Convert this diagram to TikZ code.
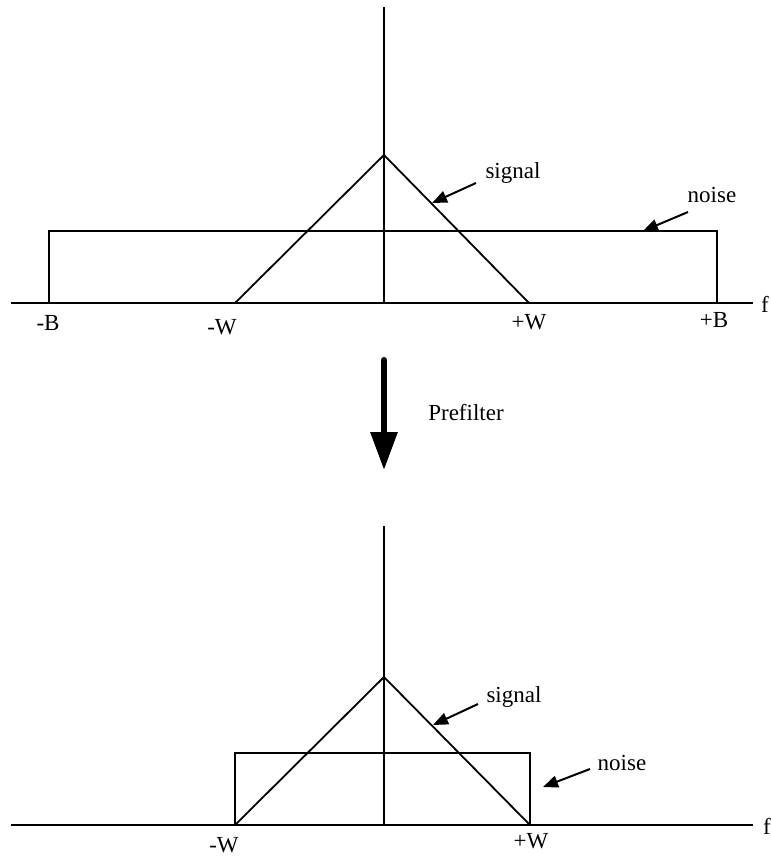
\documentclass[tikz,border=0pt]{standalone}
\usepackage{fontspec}
\setmainfont{Liberation Serif}
\usetikzlibrary{arrows.meta}
\tikzset{
  axisline/.style={line width=1pt},
  midline/.style={line width=0.55pt},
  curve/.style={line width=0.9pt},
  lbl/.style={inner sep=0pt, font=\fontsize{11.5}{13}\selectfont},
  ptr/.style={-{Triangle[length=7.5pt,width=6pt]}, line width=1pt},
  bigarr/.style={-{Triangle[length=19pt,width=13pt]}, line width=3pt, line cap=round}
}

\begin{document}
\begin{tikzpicture}[x=0.5pt,y=-0.5pt]
        \useasboundingbox (0,0) rectangle (771,858);
        % before the prefilter
        \coordinate (axL) at (11,303);
        \coordinate (axR) at (753,303);
        \coordinate (midT) at (384,7);
        \coordinate (midB) at (384,303);
        \coordinate (sigL) at (235,303);
        \coordinate (sigP) at (384,155);
        \coordinate (sigR) at (529,303);
        \coordinate (noiL) at (49,303);
        \coordinate (noiR) at (717,303);
        \draw[axisline] (axL) -- (axR);
        \draw[midline] (midT) -- (midB);
        \draw[curve] (sigL) -- (sigP) -- (sigR);
        \draw[curve] (noiL) -- (49,231) -- (717,231) -- (noiR);
        \node[lbl] (f) at (765,304) {f};
        \node[lbl] (mB) at (48,323) {-B};
        \node[lbl] (mW) at (222,327) {-W};
        \node[lbl] (pW) at (529,322) {+W};
        \node[lbl] (pB) at (714,320) {+B};
        \node[lbl] (signal) at (513,173) {signal};
        \node[lbl] (noise) at (712,195) {noise};
        \coordinate (sigTail) at (476,183);
        \coordinate (sigTip) at (432,203);
        \coordinate (noiTail) at (688,212);
        \coordinate (noiTip) at (643,231);
        \draw[ptr] (sigTail) -- (sigTip);
        \draw[ptr] (noiTail) -- (noiTip);

        % prefilter step
        \coordinate (pfTop) at (384,360);
        \coordinate (pfTip) at (384,470);
        \draw[bigarr] (pfTop) -- (pfTip);
        \node[lbl] (prefilter) at (466,413) {Prefilter};

        % after the prefilter
        \coordinate (axL2) at (11,825);
        \coordinate (axR2) at (753,825);
        \coordinate (midT2) at (384,526);
        \coordinate (midB2) at (384,825);
        \coordinate (sigL2) at (235,825);
        \coordinate (sigP2) at (384,677);
        \coordinate (sigR2) at (530,825);
        \draw[axisline] (axL2) -- (axR2);
        \draw[midline] (midT2) -- (midB2);
        \draw[curve] (sigL2) -- (sigP2) -- (sigR2);
        \draw[curve] (sigL2) -- (235,753) -- (530,753) -- (sigR2);
        \node[lbl] (f2) at (767,826) {f};
        \node[lbl] (mW2) at (224,845) {-W};
        \node[lbl] (pW2) at (531,841) {+W};
        \node[lbl] (signal2) at (514,697) {signal};
        \node[lbl] (noise2) at (622,763) {noise};
        \coordinate (sigTail2) at (478,704);
        \coordinate (sigTip2) at (433,725);
        \coordinate (noiTail2) at (590,769);
        \coordinate (noiTip2) at (543,787);
        \draw[ptr] (sigTail2) -- (sigTip2);
        \draw[ptr] (noiTail2) -- (noiTip2);
      \end{tikzpicture}
\end{document}
